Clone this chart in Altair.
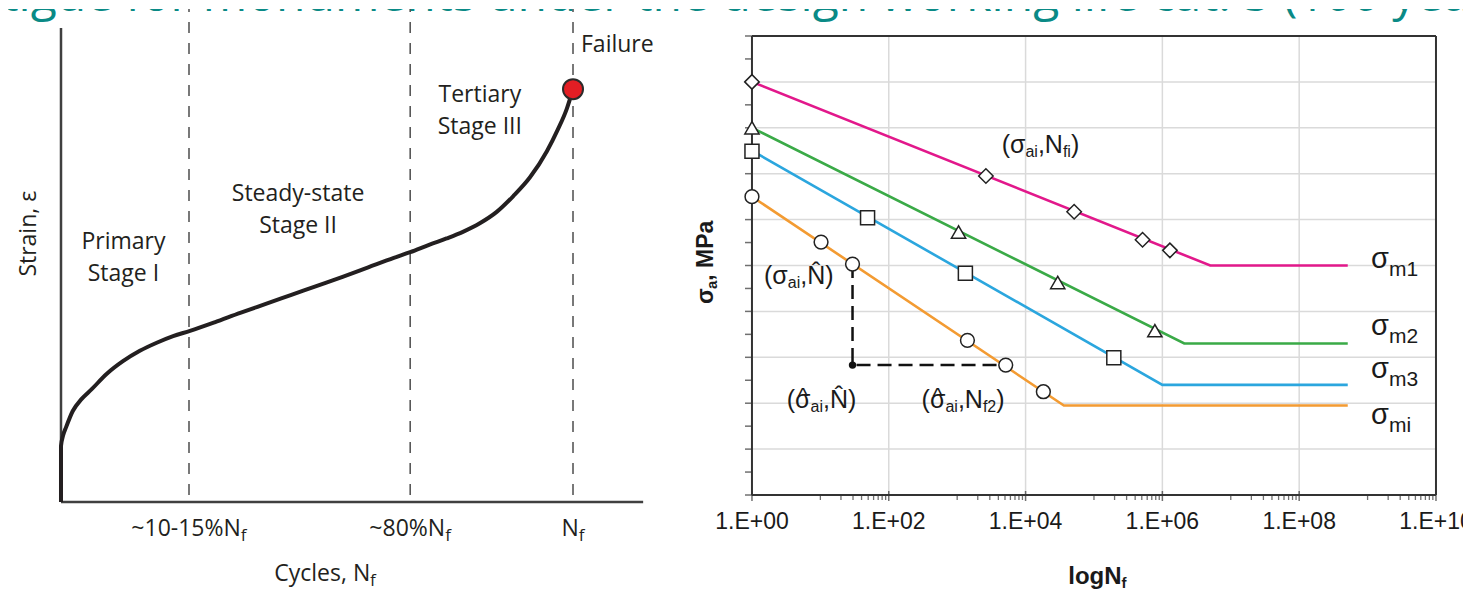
import math
import altair as alt
import pandas as pd

# ======================= DATA =======================
# ---- left panel: schematic strain vs. cycles curve ----
curve_u = [0.0, 0.0, 0.004, 0.010, 0.023, 0.040, 0.060, 0.089, 0.121, 0.154,
           0.187, 0.219, 0.252, 0.30, 0.35, 0.40, 0.45, 0.50, 0.55, 0.60,
           0.65, 0.682, 0.72, 0.753, 0.785, 0.818, 0.851, 0.883, 0.916, 0.949,
           0.970, 0.988, 1.0]
curve_v = [0.0, 1.18, 1.40, 1.58, 1.92, 2.17, 2.38, 2.70, 2.97, 3.19,
           3.36, 3.50, 3.61, 3.79, 3.99, 4.18, 4.37, 4.56, 4.75, 4.95,
           5.15, 5.27, 5.43, 5.56, 5.70, 5.88, 6.12, 6.45, 6.85, 7.40,
           7.85, 8.30, 8.71]
stage_u = [0.25, 0.682, 1.0]
stage_tick_main = ["~10-15%N", "~80%N", "N"]
stage_tick_sub = ["f", "f", "f"]
failure_u = [1.0]
failure_v = [8.71]
stage_text = ["Primary", "Stage I", "Steady-state", "Stage II", "Tertiary", "Stage III"]
stage_text_u = [0.122, 0.122, 0.463, 0.463, 0.818, 0.818]
stage_text_v = [5.34, 4.66, 6.35, 5.68, 8.44, 7.76]
failure_text = "Failure"
left_x_title = ("Cycles, N", "f")
left_y_title = "Strain, ε"

# ---- right panel: S-N curves ----
series_names = ["σm1", "σm2", "σm3", "σmi"]
series_subs = ["m1", "m2", "m3", "mi"]
series_colors = ["#e2188b", "#3aaa47", "#2ba6de", "#f39b32"]
series_shapes = ["diamond", "triangle-up", "square", "circle"]
series_marker_size = [210, 190, 165, 160]
series_start = [9.0, 8.0, 7.5, 6.5]          # sigma_a at N = 1
series_knee = [6.70, 6.32, 6.00, 4.56]       # log N at knee
series_floor = [5.0, 3.30, 2.40, 1.95]       # sigma_a plateau
series_end = [8.71, 8.71, 8.71, 8.71]        # log N at line end

marker_logN = {
    "σm1": [0.0, 3.42, 4.71, 5.71, 6.11],
    "σm2": [0.0, 3.02, 4.47, 5.89],
    "σm3": [0.0, 1.69, 3.12, 5.29],
    "σmi": [0.0, 1.01, 1.47, 3.15, 3.71, 4.26],
}
marker_v = {
    "σm1": [9.0, 6.95, 6.17, 5.56, 5.33],
    "σm2": [8.0, 5.73, 4.63, 3.58],
    "σm3": [7.49, 6.04, 4.83, 2.99],
    "σmi": [6.5, 5.51, 5.03, 3.37, 2.83, 2.25],
}
construct_logN = [1.47, 1.47, 3.71]
construct_v = [5.03, 2.83, 2.83]
label_logN = [9.05, 9.05, 9.05, 9.05]
label_v = [4.95, 3.486, 2.556, 1.547]
ann_logN = [3.65, 0.175, 0.508, 2.48]
ann_v = [7.457, 4.59, 1.90, 1.90]
xtick_logN = [0, 2, 4, 6, 8, 10]
xtick_labels = ["1.E+00", "1.E+02", "1.E+04", "1.E+06", "1.E+08", "1.E+10"]
ytick_v = [i * 0.5 for i in range(21)]
grid_x = [2, 4, 6, 8]
grid_y = [1, 2, 3, 4, 5, 6, 7, 8, 9]

TITLE = "Fatigue for monuments under the design working life cat. 5 (100 years)"
HAT = "\u0302"

# ======================= SCALES =======================
LX = alt.Scale(domain=[-0.1035, 1.2285], nice=False, zero=False)
LY = alt.Scale(domain=[-1.899, 10.401], nice=False, zero=False)
RX = alt.Scale(domain=[-0.906, 10.395], nice=False, zero=False)
RY = alt.Scale(domain=[-2.113, 10.588], nice=False, zero=False)

def XY(xs, ys):
    return dict(x=alt.X("x:Q", scale=xs, axis=None), y=alt.Y("y:Q", scale=ys, axis=None))

ARIAL = {'(': .333, ')': .333, ',': .278, ' ': .278, 'N': .722, 'a': .556, 'i': .222,
         'f': .278, '2': .556, 'm': .833, '1': .556, '3': .556, 'σ': .62, '^': .469, HAT: 0.0}
ARIAL_B = {'σ': .65, 'a': .556, ',': .278, ' ': .278, 'M': .833, 'P': .667, 'l': .278,
           'o': .611, 'g': .611, 'N': .722, 'f': .333}
OPEN = {'~': .572, '1': .572, '0': .572, '-': .322, '5': .572, '8': .572, '%': .832,
        'N': .748, 'f': .342, 'C': .633, 'y': .499, 'c': .478, 'l': .257, 'e': .561,
        's': .479, ',': .244, ' ': .26}

def tw(s, size, table):
    return sum(table.get(c, 0.56) for c in s) * size

def pieces(x, y, parts, xs, ys, font, size, sub_size, sub_drop, table, color,
           weight="normal", align="left", angle=0, hat_size=22, hat_rise=5):
    items, cur, last_w = [], 0.0, 0.0
    for text, role in parts:
        if role == "h":  # caret centred over the previous glyph
            hw = table['^'] * hat_size
            items.append((text, cur - last_w / 2 - hw / 2, -hat_rise, hat_size))
            continue
        s = size if role == "m" else sub_size
        items.append((text, cur, 0 if role == "m" else sub_drop, s))
        last_w = table.get(text[-1], .56) * s
        cur += tw(text, s, table)
    shift = -cur / 2 if align == "center" else 0.0
    out = []
    for text, dx, dy, s in items:
        out.append(
            alt.Chart(pd.DataFrame({"x": [x], "y": [y], "t": [text]}))
            .mark_text(align="left", baseline="alphabetic", dx=dx + shift, dy=dy,
                       fontSize=s, font=font, fontWeight=weight, color=color,
                       angle=angle, clip=True)
            .encode(text="t:N", **XY(xs, ys))
        )
    return out

def title_layer(x, y, xs, ys):
    return (alt.Chart(pd.DataFrame({"x": [x], "y": [y], "t": [TITLE]}))
            .mark_text(align="left", baseline="alphabetic", fontSize=48, font="Open Sans",
                       color="#0a8a86", clip=True)
            .encode(text="t:N", **XY(xs, ys)))

# ======================= LEFT PANEL =======================
L = [title_layer(-0.2168, 10.358, LX, LY)]
L.append(alt.Chart(pd.DataFrame({"x": [0, 0], "y": [0, 0], "x2": [1.137, 0], "y2": [0, 10]}))
         .mark_rule(color="#404040", strokeWidth=2.5)
         .encode(x2="x2:Q", y2="y2:Q", **XY(LX, LY)))
L.append(alt.Chart(pd.DataFrame({"x": stage_u, "y": [0.15] * 3, "y2": [10.401] * 3}))
         .mark_rule(color="#4d4d4d", strokeWidth=1.5, strokeDash=[11, 10])
         .encode(y2="y2:Q", **XY(LX, LY)))
L.append(alt.Chart(pd.DataFrame({"x": curve_u, "y": curve_v, "i": range(len(curve_u))}))
         .mark_line(color="#231f20", strokeWidth=4, interpolate="monotone")
         .encode(order="i:Q", **XY(LX, LY)))
L.append(alt.Chart(pd.DataFrame({"x": failure_u, "y": failure_v}))
         .mark_point(shape="circle", size=400, filled=True, fill="#e31e24", stroke="#2b2b2b",
                     strokeWidth=2, opacity=1)
         .encode(**XY(LX, LY)))
L.append(alt.Chart(pd.DataFrame({"x": stage_text_u, "y": stage_text_v, "t": stage_text}))
         .mark_text(align="center", baseline="alphabetic", fontSize=23, font="Open Sans",
                    color="#231f20", clip=True)
         .encode(text="t:N", **XY(LX, LY)))
L.append(alt.Chart(pd.DataFrame({"x": [1.0156], "y": [9.50], "t": [failure_text]}))
         .mark_text(align="left", baseline="alphabetic", fontSize=23, font="Open Sans",
                    color="#231f20", clip=True)
         .encode(text="t:N", **XY(LX, LY)))
L.append(alt.Chart(pd.DataFrame({"x": [-0.0488], "y": [5.66], "t": [left_y_title]}))
         .mark_text(align="center", baseline="alphabetic", fontSize=23, font="Open Sans",
                    color="#231f20", angle=270, clip=True)
         .encode(text="t:N", **XY(LX, LY)))
for u, m, s in zip(stage_u, stage_tick_main, stage_tick_sub):
    L += pieces(u, -0.717, [(m, "m"), (s, "s")], LX, LY, "Open Sans", 23, 17, 5, OPEN,
                "#231f20", align="center")
L += pieces(0.5156, -1.667, [(left_x_title[0], "m"), (left_x_title[1], "s")], LX, LY,
            "Open Sans", 23, 17, 5, OPEN, "#231f20", align="center")

left = alt.layer(*L).properties(width=682, height=583)

# ======================= RIGHT PANEL =======================
R = [title_layer(-11.725, 10.545, RX, RY)]
grid = pd.DataFrame({"x": grid_x + [0] * len(grid_y), "y": [0] * len(grid_x) + grid_y,
                     "x2": grid_x + [10] * len(grid_y), "y2": [10] * len(grid_x) + grid_y})
R.append(alt.Chart(grid).mark_rule(color="#dadada", strokeWidth=1.5)
         .encode(x2="x2:Q", y2="y2:Q", **XY(RX, RY)))
frame = pd.DataFrame({"x": [0, 10, 0, 0], "y": [0, 0, 10, 0], "x2": [0, 10, 10, 10], "y2": [10, 10, 10, 0]})
R.append(alt.Chart(frame).mark_rule(color="#333333", strokeWidth=2)
         .encode(x2="x2:Q", y2="y2:Q", **XY(RX, RY)))
R.append(alt.Chart(pd.DataFrame({"x": [0] * len(ytick_v), "y": ytick_v}))
         .mark_tick(orient="horizontal", size=7, thickness=1.5, color="#333333", xOffset=-3.5)
         .encode(**XY(RX, RY)))
R.append(alt.Chart(pd.DataFrame({"x": xtick_logN, "y": [0] * len(xtick_logN)}))
         .mark_tick(orient="vertical", size=10, thickness=1.5, color="#333333", yOffset=1)
         .encode(**XY(RX, RY)))
minor = [2 * k + math.log10(10 * j) for k in range(5) for j in range(1, 10)]
R.append(alt.Chart(pd.DataFrame({"x": minor, "y": [0] * len(minor)}))
         .mark_tick(orient="vertical", size=5, thickness=1.3, color="#333333", yOffset=2.5)
         .encode(**XY(RX, RY)))
R.append(alt.Chart(pd.DataFrame({"x": xtick_logN, "y": [-0.741] * 6, "t": xtick_labels}))
         .mark_text(align="center", baseline="alphabetic", fontSize=23, font="Liberation Sans",
                    color="#1a1a1a", clip=True)
         .encode(text="t:N", **XY(RX, RY)))

rows = []
for n, a, k, f, e in zip(series_names, series_start, series_knee, series_floor, series_end):
    rows += [(n, 0.0, a, 0), (n, k, f, 1), (n, e, f, 2)]
lines = pd.DataFrame(rows, columns=["s", "x", "y", "i"])
color = alt.Color("s:N", scale=alt.Scale(domain=series_names, range=series_colors), legend=None)
R.append(alt.Chart(lines).mark_line(strokeWidth=2.6)
         .encode(color=color, detail="s:N", order="i:Q", **XY(RX, RY)))
R.append(alt.Chart(pd.DataFrame({"x": construct_logN, "y": construct_v, "i": [0, 1, 2]}))
         .mark_line(color="#111111", strokeWidth=2.5, strokeDash=[14, 7])
         .encode(order="i:Q", **XY(RX, RY)))
R.append(alt.Chart(pd.DataFrame({"x": [construct_logN[1]], "y": [construct_v[1]]}))
         .mark_circle(size=55, color="#111111", opacity=1)
         .encode(**XY(RX, RY)))
mk = pd.DataFrame([(n, x, y) for n in series_names for x, y in zip(marker_logN[n], marker_v[n])],
                  columns=["s", "x", "y"])
R.append(alt.Chart(mk).mark_point(filled=True, fill="white", stroke="#222222", strokeWidth=1.5,
                                  opacity=1)
         .encode(shape=alt.Shape("s:N", scale=alt.Scale(domain=series_names, range=series_shapes),
                                 legend=None),
                 size=alt.Size("s:N", scale=alt.Scale(domain=series_names, range=series_marker_size),
                               legend=None),
                 **XY(RX, RY)))

for x, y, sub in zip(label_logN, label_v, series_subs):
    R += pieces(x, y, [("σ", "m"), (sub, "s")], RX, RY, "Liberation Sans", 29, 21, 8, ARIAL, "#1a1a1a")

ann_parts = [
    [("(σ", "m"), ("ai", "s"), (",N", "m"), ("fi", "s"), (")", "m")],
    [("(σ", "m"), ("ai", "s"), (",N" + HAT + ")", "m")],
    [("(σ", "m"), ("^", "h"), ("ai", "s"), (",N" + HAT + ")", "m")],
    [("(σ", "m"), ("^", "h"), ("ai", "s"), (",N", "m"), ("f2", "s"), (")", "m")],
]
for x, y, parts in zip(ann_logN, ann_v, ann_parts):
    R += pieces(x, y, parts, RX, RY, "Liberation Sans", 25, 16, 4, ARIAL, "#1a1a1a",
                hat_size=22, hat_rise=5)

R += pieces(-0.570, 4.161, [("σ", "m"), ("a", "s"), (", MPa", "m")], RX, RY, "Liberation Sans",
            23, 15, 4, ARIAL_B, "#1a1a1a", weight="bold", angle=270)
R += pieces(5.05, -1.939, [("logN", "m"), ("f", "s")], RX, RY, "Liberation Sans", 24, 15, 4,
            ARIAL_B, "#1a1a1a", weight="bold", align="center")

right = alt.layer(*R).properties(width=773, height=583)

chart = (alt.hconcat(left, right, spacing=0, bounds="flush", padding=0)
         .configure_view(stroke=None))

chart.save("out.html", embed_options={"renderer": "svg", "actions": False})
